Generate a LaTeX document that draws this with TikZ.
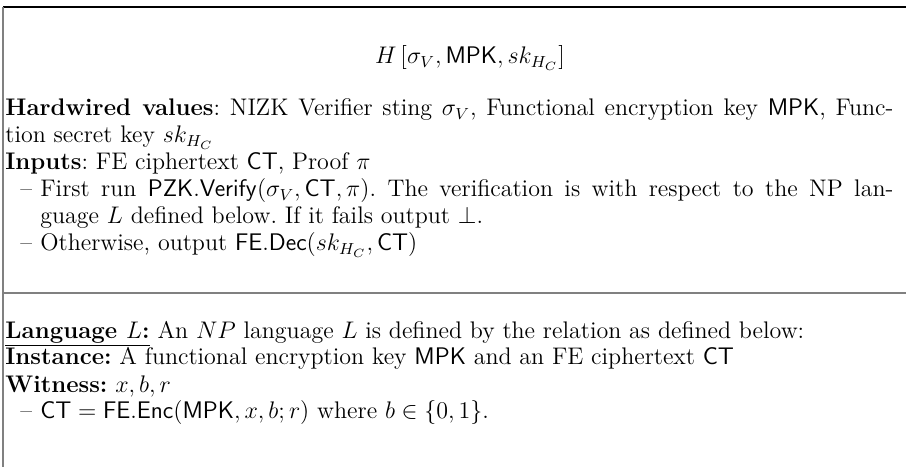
\RequirePackage{fix-cm}
\documentclass[tikz,border=0pt]{standalone}

% a list entry led by an en dash, with a hanging indent
\newcommand\dashentry{\par\hangindent=17.5pt\hangafter=1\noindent
  \hbox to 17.5pt{\hskip7.5pt\textendash\hss}}
\newcommand\sk{sk_{H_C}}

\tikzset{
  frameline/.style={line width=0.7pt, black},
  sideline/.style={line width=1.1pt, black!50},
  splitline/.style={line width=0.9pt, black!50},
  textblock/.style={anchor=base west, inner sep=0pt,
    font=\fontsize{12}{13.5}\selectfont\frenchspacing},
}

\begin{document}
\begin{tikzpicture}[x=1pt,y=1pt]
  \useasboundingbox (0,0) rectangle (453,233.5);

  % frame of the box
  \coordinate (tl) at (1.5,230);
  \coordinate (tr) at (453,230);
  \coordinate (bl) at (1.5,0);
  \coordinate (sl) at (1.5,87);
  \coordinate (sr) at (453,87);
  \draw[frameline] (tl) -- (tr);
  \draw[sideline] (tl) -- (bl);
  \draw[splitline] (sl) -- (sr);

  % heading
  \node[textblock, anchor=base] (title) at (235,201.5)
    {$H\left[\sigma_V, \mathsf{MPK}, \sk\right]$};

  % the circuit description
  \node[textblock] (circuit) at (2.5,175.5) {\vtop{\hsize=444pt\parindent=0pt
    \textbf{Hardwired values}: NIZK Verifier sting $\sigma_V$, Functional encryption key $\mathsf{MPK}$, Func-\linebreak
    tion secret key $\sk$\newline
    \textbf{Inputs}: FE ciphertext $\mathsf{CT}$, Proof $\pi$
    \dashentry First run $\mathsf{PZK.Verify}(\sigma_V, \mathsf{CT}, \pi)$. The verification is with respect to the NP lan-\linebreak
    guage $L$ defined below. If it fails output $\bot$.
    \dashentry Otherwise, output $\mathsf{FE.Dec}(\sk, \mathsf{CT})$\par}};

  % the NP language
  \node[textblock] (language) at (2.5,64.5) {\vtop{\hsize=444pt\parindent=0pt
    \underline{\textbf{Language $L$:}} An $NP$ language $L$ is defined by the relation as defined below:\newline
    \textbf{Instance:} A functional encryption key $\mathsf{MPK}$ and an FE ciphertext $\mathsf{CT}$\newline
    \textbf{Witness:} $x, b, r$
    \dashentry $\mathsf{CT} = \mathsf{FE.Enc}(\mathsf{MPK}, x, b; r)$ where $b \in \{0,1\}$.\par}};
\end{tikzpicture}
\end{document}
